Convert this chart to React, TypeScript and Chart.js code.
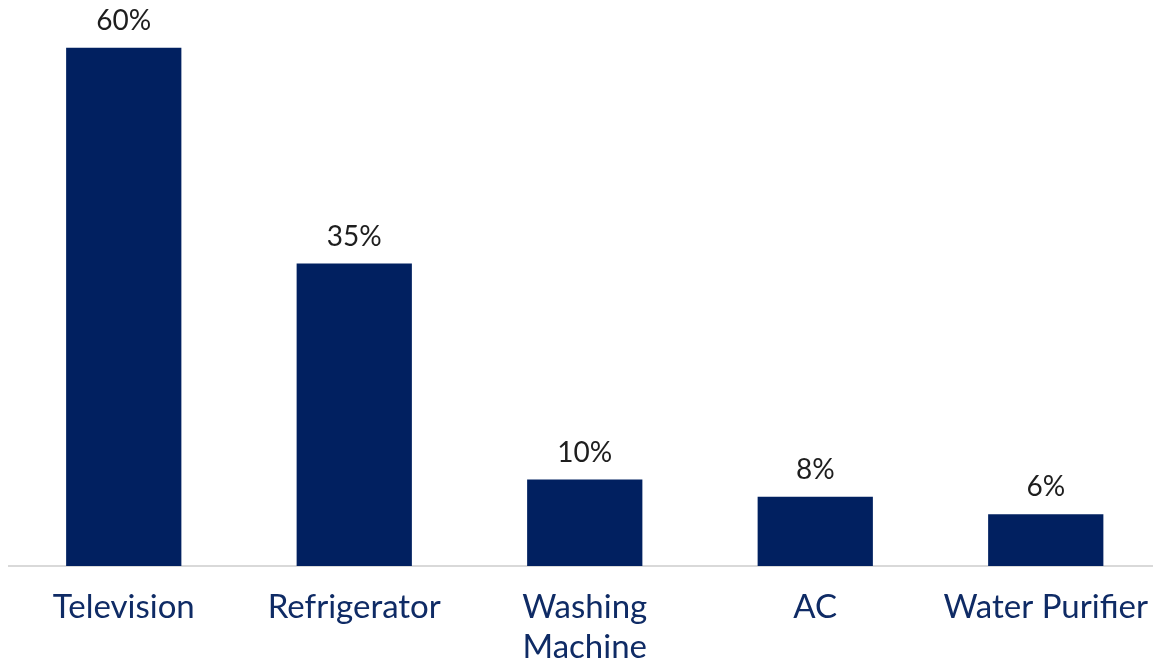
import React, { useEffect, useRef } from "react";
import { Chart, registerables } from "chart.js";

Chart.register(...registerables);

const categories: (string | string[])[] = [
  "Television",
  "Refrigerator",
  ["Washing", "Machine"],
  "AC",
  "Water Purifier",
];
const shares: number[] = [60, 35, 10, 8, 6];
const valueLabels: string[] = ["60%", "35%", "10%", "8%", "6%"];

const BAR_COLOR = "#012060";
const AXIS_LABEL_COLOR = "#0f2b65";
const VALUE_COLOR = "#1e1e1e";
const FONT = "Lato, 'Noto Sans', sans-serif";

const valueLabelPlugin = {
  id: "valueLabels",
  afterDatasetsDraw(chart: any) {
    const ctx = chart.ctx;
    const meta = chart.getDatasetMeta(0);
    ctx.save();
    ctx.font = `28px ${FONT}`;
    ctx.fillStyle = VALUE_COLOR;
    ctx.textAlign = "center";
    ctx.textBaseline = "alphabetic";
    meta.data.forEach((bar: any, i: number) => {
      ctx.fillText(valueLabels[i], bar.x, bar.y - 18);
    });
    ctx.restore();
  },
};

export default function App() {
  const ref = useRef<HTMLCanvasElement | null>(null);
  useEffect(() => {
    if (!ref.current) return;
    const chart = new Chart(ref.current, {
      type: "bar",
      data: {
        labels: categories,
        datasets: [
          {
            data: shares,
            backgroundColor: BAR_COLOR,
            borderWidth: 0,
            categoryPercentage: 0.5,
            barPercentage: 1,
          },
        ],
      },
      options: {
        responsive: false,
        animation: false,
        layout: { padding: { left: 8.5, right: 9, top: 47.5, bottom: 0 } },
        plugins: { legend: { display: false }, tooltip: { enabled: false } },
        scales: {
          x: {
            grid: {
              display: true,
              drawOnChartArea: false,
              drawTicks: false,
              color: "transparent",
            },
            border: { display: true, color: "#d9d9d9", width: 2 },
            ticks: {
              color: AXIS_LABEL_COLOR,
              font: { family: FONT, size: 33, lineHeight: 1.2 },
              padding: 22,
              maxRotation: 0,
              autoSkip: false,
            },
            afterFit(scale: any) {
              scale.height = 97;
              scale.paddingLeft = 0;
              scale.paddingRight = 0;
            },
          },
          y: {
            display: false,
            min: 0,
            max: 60,
          },
        },
      },
      plugins: [valueLabelPlugin],
    });
    return () => chart.destroy();
  }, []);
  return (
    <div
      style={{
        position: "fixed",
        left: 0,
        top: 0,
        width: "100vw",
        height: "100vh",
        overflow: "hidden",
        background: "#fff",
      }}
    >
      <canvas
        ref={ref}
        width={1170}
        height={663}
        style={{ display: "block", width: 1170, height: 663 }}
      />
    </div>
  );
}
